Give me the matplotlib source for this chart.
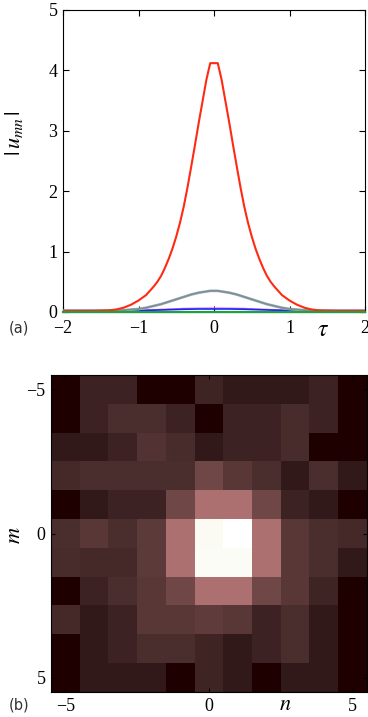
import numpy as np
import matplotlib
matplotlib.use('Agg')
import matplotlib.pyplot as plt

# ---- panel (a): |u_mn| vs tau ----
tau = [-2.0, -1.6, -1.4, -1.3, -1.2, -1.1, -1.0, -0.9, -0.8, -0.75, -0.7, -0.65,
       -0.6, -0.55, -0.5, -0.45, -0.4, -0.35, -0.3, -0.25, -0.2, -0.15, -0.1, -0.05,
       0.05, 0.1, 0.15, 0.2, 0.25, 0.3, 0.35, 0.4, 0.45, 0.5, 0.55, 0.6, 0.65,
       0.7, 0.75, 0.8, 0.9, 1.0, 1.1, 1.2, 1.3, 1.4, 1.6, 2.0]
u_red = [0.02, 0.02, 0.025, 0.04, 0.07, 0.12, 0.19, 0.28, 0.42, 0.50, 0.60, 0.73,
         0.88, 1.05, 1.25, 1.48, 1.75, 2.07, 2.42, 2.78, 3.15, 3.50, 3.85, 4.12,
         4.12, 3.85, 3.50, 3.15, 2.78, 2.42, 2.07, 1.75, 1.48, 1.25, 1.05, 0.88, 0.73,
         0.60, 0.50, 0.42, 0.28, 0.19, 0.12, 0.07, 0.04, 0.025, 0.02, 0.02]
u_grey = [0.02, 0.02, 0.025, 0.03, 0.03, 0.04, 0.05, 0.07, 0.10, 0.115, 0.13, 0.15,
          0.17, 0.19, 0.21, 0.23, 0.25, 0.27, 0.29, 0.305, 0.32, 0.33, 0.34, 0.35,
          0.35, 0.34, 0.33, 0.32, 0.305, 0.29, 0.27, 0.25, 0.23, 0.21, 0.19, 0.17, 0.15,
          0.13, 0.115, 0.10, 0.07, 0.05, 0.04, 0.03, 0.03, 0.025, 0.02, 0.02]
u_mag = [0.025, 0.025, 0.025, 0.025, 0.025, 0.03, 0.03, 0.035, 0.04, 0.04, 0.045, 0.045,
         0.05, 0.05, 0.055, 0.055, 0.06, 0.06, 0.062, 0.062, 0.064, 0.064, 0.065, 0.065,
         0.065, 0.065, 0.064, 0.064, 0.062, 0.062, 0.06, 0.06, 0.055, 0.055, 0.05, 0.05, 0.045,
         0.045, 0.04, 0.04, 0.035, 0.03, 0.03, 0.025, 0.025, 0.025, 0.025, 0.025]
u_blue = [0.025, 0.025, 0.025, 0.025, 0.025, 0.025, 0.025, 0.027, 0.03, 0.032, 0.034, 0.036,
          0.038, 0.04, 0.042, 0.044, 0.046, 0.047, 0.048, 0.049, 0.05, 0.05, 0.05, 0.05,
          0.05, 0.05, 0.05, 0.05, 0.049, 0.048, 0.047, 0.046, 0.044, 0.042, 0.04, 0.038, 0.036,
          0.034, 0.032, 0.03, 0.027, 0.025, 0.025, 0.025, 0.025, 0.025, 0.025, 0.025]
u_green = [0.008] * len(tau)

# ---- panel (b): lattice amplitudes, rows m=-5..5, columns n=-5..5 ----
grid = [
    [0.000, 0.030, 0.030, 0.000, 0.000, 0.034, 0.018, 0.018, 0.018, 0.030, 0.000],
    [0.000, 0.030, 0.049, 0.049, 0.030, 0.000, 0.030, 0.030, 0.045, 0.030, 0.000],
    [0.018, 0.018, 0.030, 0.060, 0.045, 0.018, 0.030, 0.030, 0.045, 0.000, 0.000],
    [0.040, 0.049, 0.049, 0.049, 0.049, 0.118, 0.073, 0.049, 0.018, 0.049, 0.018],
    [0.000, 0.018, 0.030, 0.030, 0.118, 0.290, 0.290, 0.118, 0.030, 0.018, 0.000],
    [0.049, 0.073, 0.049, 0.080, 0.290, 0.960, 1.000, 0.290, 0.073, 0.049, 0.040],
    [0.045, 0.040, 0.040, 0.080, 0.290, 0.970, 0.970, 0.290, 0.073, 0.049, 0.018],
    [0.000, 0.030, 0.049, 0.073, 0.118, 0.290, 0.290, 0.118, 0.073, 0.034, 0.000],
    [0.040, 0.018, 0.030, 0.073, 0.073, 0.083, 0.073, 0.030, 0.049, 0.018, 0.000],
    [0.000, 0.018, 0.030, 0.049, 0.049, 0.034, 0.018, 0.030, 0.049, 0.018, 0.000],
    [0.000, 0.018, 0.018, 0.018, 0.000, 0.034, 0.018, 0.000, 0.018, 0.018, 0.000],
]
n_ticks = [-5, 0, 5]
m_ticks = [-5, 0, 5]

plt.rcParams['font.family'] = 'Liberation Serif'
plt.rcParams['mathtext.fontset'] = 'stix'

fig = plt.figure(figsize=(3.68, 7.17), dpi=100)

# ── top panel ──
ax1 = fig.add_axes([63/368, 405/717, 302/368, 302/717])
ax1.plot(tau, u_green, color='#20a040', lw=1.6, zorder=7, clip_on=False)
ax1.plot(tau, u_blue, color='#2020ff', lw=1.2, zorder=4)
ax1.plot(tau, u_mag, color='#e080e0', lw=1.0, zorder=3)
ax1.plot(tau, u_grey, color='#a8bce0', lw=2.0, zorder=4)
ax1.plot(tau, u_grey, color='#80908a', lw=1.3, zorder=5)
ax1.plot(tau, u_red, color='#ff2a14', lw=1.5, zorder=6)
ax1.set_xlim(-2, 2)
ax1.set_ylim(0, 5)
ax1.set_xticks([-2, -1, 0, 1, 2])
ax1.set_xticklabels(['\u22122', '\u22121', '0', '1', '2'])
ax1.set_yticks([0, 1, 2, 3, 4, 5])
ax1.tick_params(direction='in', top=True, right=True, length=4, width=0.8,
                labelsize=13, pad=4)
ax1.tick_params(axis='x', pad=6)
for s in ax1.spines.values():
    s.set_linewidth(0.8)
fig.text(323/368, 1 - 331/717, r'$\tau$', fontsize=17, ha='center', va='center')
fig.text(14/368, 1 - 133/717, r'$|\,u_{mn}\,|$', fontsize=16, rotation=90,
         ha='center', va='center')
fig.text(19/368, 1 - 328/717, '(a)', fontsize=10.5, family='DejaVu Sans',
         ha='center', va='center', color='#333333')

# ── bottom panel ──
ax2 = fig.add_axes([51/368, 25/717, 316/368, 317/717])
ax2.imshow(np.array(grid), cmap='pink', vmin=0, vmax=1, interpolation='nearest',
           extent=[-5.5, 5.5, 5.5, -5.5], aspect='auto')
ax2.set_xticks(n_ticks)
ax2.set_xticklabels(['\u22125', '0', '5'])
ax2.set_yticks(m_ticks)
ax2.set_yticklabels(['\u22125', '0', '5'])
ax2.tick_params(direction='in', top=True, right=True, length=3, width=0.8,
                labelsize=13, pad=4)
for s in ax2.spines.values():
    s.set_linewidth(0.8)
fig.text(285/368, 1 - 706/717, r'$n$', fontsize=16, ha='center', va='center')
fig.text(15/368, 1 - 535/717, r'$m$', fontsize=16, rotation=90,
         ha='center', va='center')
fig.text(19/368, 1 - 705/717, '(b)', fontsize=10.5, family='DejaVu Sans',
         ha='center', va='center', color='#333333')

fig.savefig('out.png', dpi=100)
